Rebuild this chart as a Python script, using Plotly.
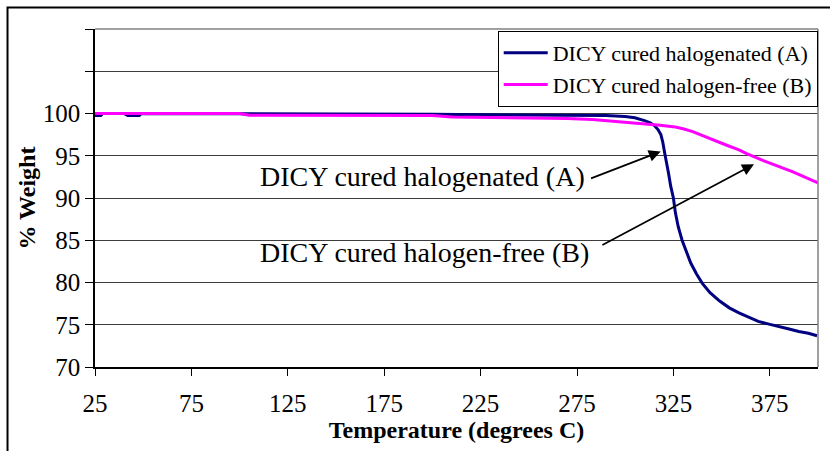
import plotly.graph_objects as go

# Thermogravimetric curves (% weight vs temperature, degrees C)
temp_a = [25, 28, 29, 40, 42, 48, 49, 100, 105, 150, 200, 240, 270, 290, 300,
          305, 310, 313, 315, 317, 318.5, 319.5, 320.5, 321.5, 322.5, 323.6,
          325, 326, 327.5, 329.5, 332, 334, 337, 340, 344, 349, 354, 359, 364,
          369, 374, 380, 385, 390, 395, 399.5]
weight_a = [99.75, 99.75, 100.0, 100.0, 99.75, 99.75, 100.0, 100.0, 99.95,
            99.95, 99.9, 99.85, 99.8, 99.75, 99.65, 99.5, 99.15, 98.9, 98.6,
            98.1, 97.5, 96.6, 95.3, 94.2, 92.9, 91.4, 90.0, 88.3, 86.6, 85.0,
            83.5, 82.3, 81.0, 79.9, 78.8, 77.8, 77.0, 76.4, 75.9, 75.4, 75.1,
            74.8, 74.5, 74.2, 74.0, 73.7]

temp_b = [25, 100, 105, 200, 210, 230, 260, 270, 283, 300, 310, 318, 326, 330,
          335, 343, 352, 359, 363, 373, 387, 400]
weight_b = [100.0, 100.0, 99.8, 99.75, 99.6, 99.55, 99.5, 99.4, 99.3, 99.0,
            98.8, 98.6, 98.4, 98.2, 97.85, 97.1, 96.3, 95.7, 95.25, 94.3,
            93.1, 91.8]

name_a = "DICY cured halogenated (A)"
name_b = "DICY cured halogen-free (B)"

x_ticks = [25, 75, 125, 175, 225, 275, 325, 375]
y_ticks = [70, 75, 80, 85, 90, 95, 100, 105, 110]
y_tick_text = ["70", "75", "80", "85", "90", "95", "100", "", ""]

SERIF = "Liberation Serif"

fig = go.Figure()
fig.add_trace(go.Scatter(x=temp_a, y=weight_a, mode="lines", name=name_a,
                         line=dict(color="#000080", width=3)))
fig.add_trace(go.Scatter(x=temp_b, y=weight_b, mode="lines", name=name_b,
                         line=dict(color="#FF00FF", width=3)))

# Callout labels with arrows pointing at each curve
fig.add_annotation(x=280.3, y=92.6, xref="x", yref="y", text=name_a,
                   showarrow=False, xanchor="right", yanchor="middle",
                   font=dict(family=SERIF, size=28, color="black"))
fig.add_annotation(x=282.4, y=83.5, xref="x", yref="y", text=name_b,
                   showarrow=False, xanchor="right", yanchor="middle",
                   font=dict(family=SERIF, size=28, color="black"))
fig.add_annotation(x=318.4, y=95.5, ax=281.5, ay=92.25, xref="x", yref="y",
                   axref="x", ayref="y", text="", showarrow=True,
                   arrowhead=2, arrowsize=1.4, arrowwidth=1.7,
                   arrowcolor="black")
fig.add_annotation(x=366.8, y=94.0, ax=287.4, ay=84.35, xref="x", yref="y",
                   axref="x", ayref="y", text="", showarrow=True,
                   arrowhead=2, arrowsize=1.4, arrowwidth=1.7,
                   arrowcolor="black")

# Gray top/right frame of the plot area
fig.add_shape(type="line", xref="paper", yref="paper", x0=0, x1=1, y0=1, y1=1,
              line=dict(color="#808080", width=1.5), layer="above")
fig.add_shape(type="line", xref="paper", yref="paper", x0=1, x1=1, y0=0, y1=1,
              line=dict(color="#808080", width=1.5), layer="above")
# Outer chart border (left and top edges)
fig.add_shape(type="rect", xref="paper", yref="paper",
              x0=-0.1210, x1=1.05, y0=-0.30, y1=1.0636,
              line=dict(color="black", width=2), layer="below")

fig.update_layout(
    width=830, height=451,
    margin=dict(l=95, r=12, t=29, b=84),
    paper_bgcolor="white", plot_bgcolor="white",
    font=dict(family=SERIF, color="black"),
    showlegend=True,
    legend=dict(x=0.557, y=0.994, xanchor="left", yanchor="top",
                bgcolor="white", bordercolor="black", borderwidth=1,
                font=dict(family=SERIF, size=22, color="black"),
                tracegroupgap=0, itemwidth=44),
    xaxis=dict(range=[25, 400], tickvals=x_ticks, ticks="outside", ticklen=7,
               tickcolor="black", showline=True, linecolor="black",
               linewidth=1.5, showgrid=False, zeroline=False,
               ticklabelstandoff=6,
               tickfont=dict(family=SERIF, size=25, color="black"),
               title=dict(text="<b>Temperature (degrees C)</b>",
                          font=dict(family=SERIF, size=24, color="black"),
                          standoff=3)),
    yaxis=dict(range=[70, 110], tickvals=y_ticks, ticktext=y_tick_text,
               ticks="outside", ticklen=8, tickcolor="black", showline=True,
               linecolor="black", linewidth=1.5, showgrid=True,
               gridcolor="#3c3c3c", gridwidth=1, zeroline=False,
               tickfont=dict(family=SERIF, size=25, color="black"),
               title=dict(text="<b>% Weight</b>",
                          font=dict(family=SERIF, size=24, color="black"),
                          standoff=0)),
)

fig.write_html("out.html")
